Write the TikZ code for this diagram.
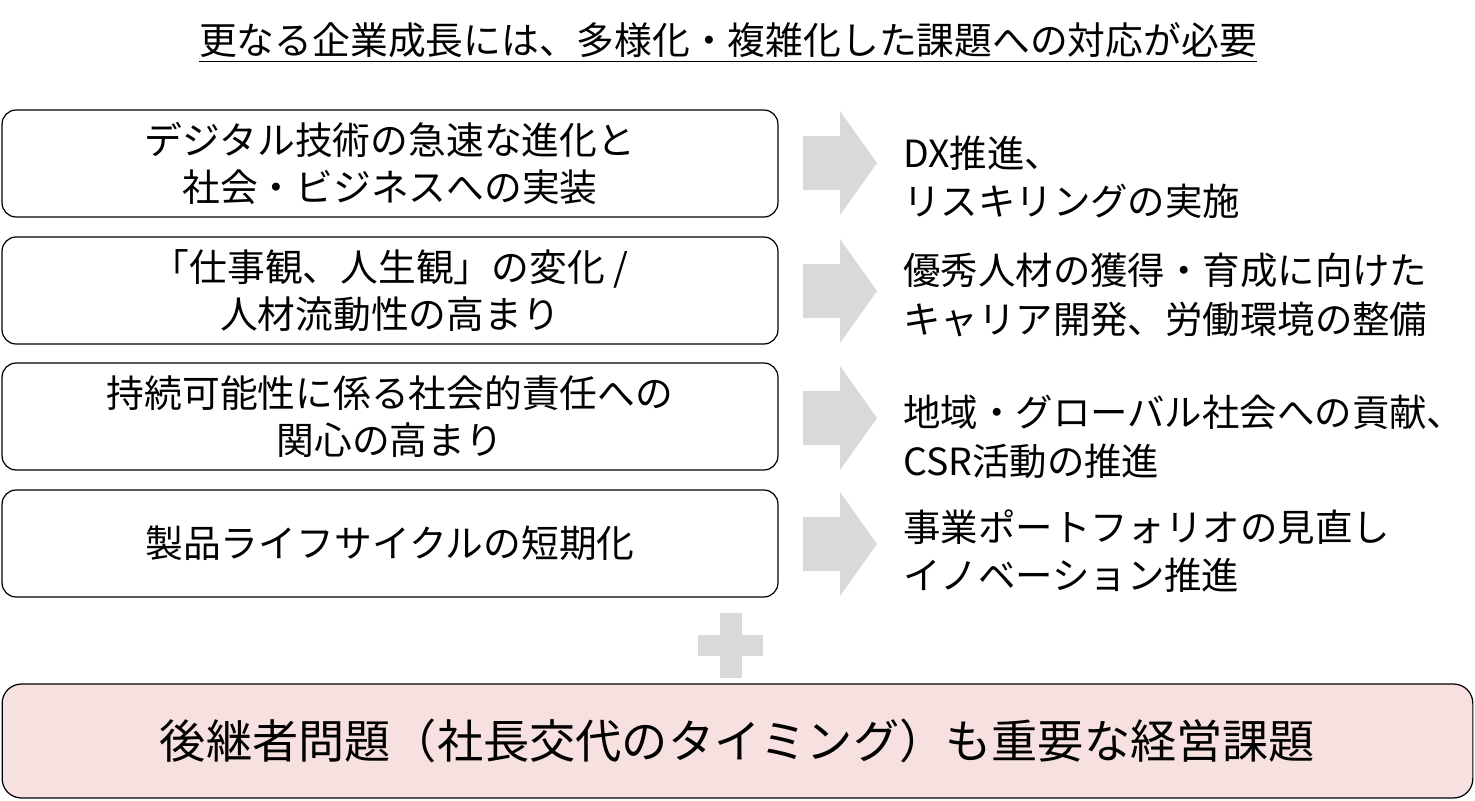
\documentclass[tikz,border=0pt]{standalone}
\usepackage{fontspec}
\newfontfamily\jpfont{Noto Sans CJK JP}
\usetikzlibrary{positioning}
\definecolor{arrowgray}{HTML}{D9D9D9}
\definecolor{issuepink}{HTML}{F6E0E0}

\begin{document}
\begin{tikzpicture}[x=0.02cm, y=-0.02cm,
  heading/.style={inner sep=0pt, font=\jpfont\fontsize{21.5}{24}\selectfont},
  issue/.style={draw, rounded corners=8pt, line width=0.7pt, align=center,
                font=\jpfont\fontsize{21.5}{26.7}\selectfont,
                minimum width=15.52cm, minimum height=2.14cm, inner sep=0pt},
  action/.style={anchor=west, align=left, inner sep=0pt,
                 font=\jpfont\fontsize{21.3}{27.5}\selectfont},
  finalbox/.style={draw, fill=issuepink, rounded corners=11pt, line width=0.7pt,
                   font=\jpfont\fontsize{26.3}{30}\selectfont,
                   minimum width=29.42cm, minimum height=2.28cm, inner sep=0pt}]
\useasboundingbox (0,0) rectangle (1475,801);
\node[heading] (title) at (728,40) {更なる企業成長には、多様化・複雑化した課題への対応が必要};
\draw[line width=1.1pt] ([yshift=-2pt]title.south west) -- ([yshift=-2pt]title.south east);
\node[issue] (i1) at (390,163.5) {デジタル技術の急速な進化と\\社会・ビジネスへの実装};
\node[issue] (i2) at (390,290.5) {「仕事観、人生観」の変化 /\\人材流動性の高まり};
\node[issue] (i3) at (390,416.5) {持続可能性に係る社会的責任への\\関心の高まり};
\node[issue] (i4) at (390,543.5) {製品ライフサイクルの短期化};
\foreach \y in {163,291,418,544}
  \fill[arrowgray] (803,\y-27) -- (840,\y-27) -- (840,\y-52) -- (877,\y)
    -- (840,\y+52) -- (840,\y+27) -- (803,\y+27) -- cycle;
\node[action] (a1) at (903,177) {DX推進、\\リスキリングの実施};
\node[action] (a2) at (903,295) {優秀人材の獲得・育成に向けた\\キャリア開発、労働環境の整備};
\node[action] (a3) at (903,437) {地域・グローバル社会への貢献、\\CSR活動の推進};
\node[action] (a4) at (903,551) {事業ポートフォリオの見直し\\イノベーション推進};
\fill[arrowgray] (720,613) rectangle (742,678);
\fill[arrowgray] (698,635) rectangle (763,656);
\node[finalbox] (succession) at (737.5,741) {後継者問題（社長交代のタイミング）も重要な経営課題};
\end{tikzpicture}
\end{document}
